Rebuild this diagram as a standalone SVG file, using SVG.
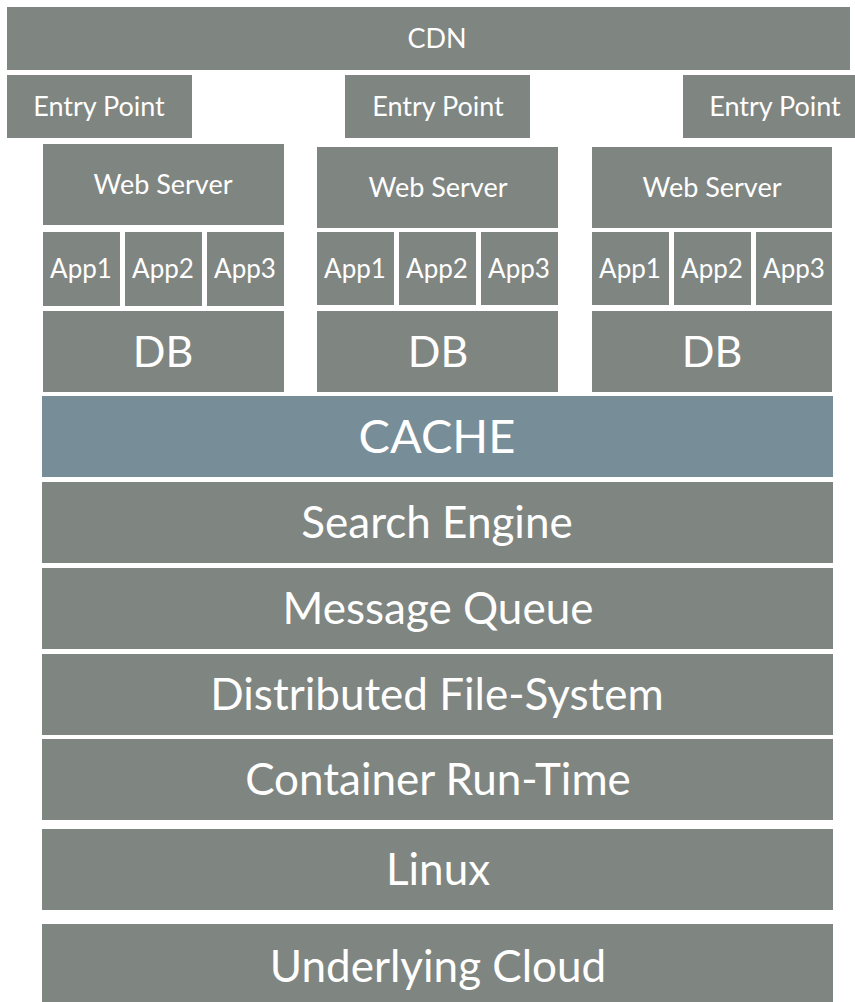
<svg xmlns="http://www.w3.org/2000/svg" width="855" height="1002" viewBox="0 0 855 1002">
  <style>
    .box { fill: #7f8581; }
    .cache { fill: #778d98; }
    .t { fill: #ffffff; font-family: Lato, "Open Sans", "Liberation Sans", sans-serif; text-anchor: middle; }
    .s { font-size: 27px; }
    .a { font-size: 26px; }
    .m { font-size: 43px; }
    .c { font-size: 47px; }
    .l { font-size: 44px; }
  </style>
  <rect width="855" height="1002" fill="#ffffff"/>

  <g id="cdn">
    <rect class="box" x="7" y="7" width="843" height="63"/>
    <text class="t s" x="437" y="48">CDN</text>
  </g>

  <g id="entry-1">
    <rect class="box" x="7" y="75" width="185" height="63"/>
    <text class="t s" x="99" y="116">Entry Point</text>
  </g>
  <g id="entry-2">
    <rect class="box" x="345" y="75" width="185" height="63"/>
    <text class="t s" x="438" y="116">Entry Point</text>
  </g>
  <g id="entry-3">
    <rect class="box" x="683" y="75" width="172" height="63"/>
    <text class="t s" x="775" y="116">Entry Point</text>
  </g>

  <!-- column 1 -->
  <g id="web-1">
    <rect class="box" x="43" y="144" width="241" height="81"/>
    <text class="t s" x="163" y="194">Web Server</text>
  </g>
  <g id="app1-1">
    <rect class="box" x="43" y="232" width="77" height="74"/>
    <text class="t a" x="81" y="278">App1</text>
  </g>
  <g id="app2-1">
    <rect class="box" x="125" y="232" width="77" height="74"/>
    <text class="t a" x="163" y="278">App2</text>
  </g>
  <g id="app3-1">
    <rect class="box" x="207" y="232" width="77" height="74"/>
    <text class="t a" x="245" y="278">App3</text>
  </g>
  <g id="db-1">
    <rect class="box" x="43" y="311" width="241" height="81"/>
    <text class="t m" x="163" y="367">DB</text>
  </g>

  <!-- column 2 -->
  <g id="web-2">
    <rect class="box" x="317" y="147" width="241" height="81"/>
    <text class="t s" x="438" y="197">Web Server</text>
  </g>
  <g id="app1-2">
    <rect class="box" x="317" y="232" width="77" height="73"/>
    <text class="t a" x="355" y="278">App1</text>
  </g>
  <g id="app2-2">
    <rect class="box" x="399" y="232" width="77" height="73"/>
    <text class="t a" x="437" y="278">App2</text>
  </g>
  <g id="app3-2">
    <rect class="box" x="481" y="232" width="77" height="73"/>
    <text class="t a" x="519" y="278">App3</text>
  </g>
  <g id="db-2">
    <rect class="box" x="317" y="311" width="241" height="81"/>
    <text class="t m" x="438" y="367">DB</text>
  </g>

  <!-- column 3 -->
  <g id="web-3">
    <rect class="box" x="592" y="147" width="240" height="81"/>
    <text class="t s" x="712" y="197">Web Server</text>
  </g>
  <g id="app1-3">
    <rect class="box" x="592" y="232" width="77" height="73"/>
    <text class="t a" x="630" y="278">App1</text>
  </g>
  <g id="app2-3">
    <rect class="box" x="674" y="232" width="77" height="73"/>
    <text class="t a" x="712" y="278">App2</text>
  </g>
  <g id="app3-3">
    <rect class="box" x="756" y="232" width="76" height="73"/>
    <text class="t a" x="794" y="278">App3</text>
  </g>
  <g id="db-3">
    <rect class="box" x="592" y="311" width="240" height="81"/>
    <text class="t m" x="712" y="367">DB</text>
  </g>

  <!-- shared layers -->
  <g id="cache">
    <rect class="cache" x="42" y="396" width="791" height="81"/>
    <text class="t c" x="437" y="453">CACHE</text>
  </g>
  <g id="search-engine">
    <rect class="box" x="42" y="482" width="791" height="81"/>
    <text class="t l" x="437" y="538">Search Engine</text>
  </g>
  <g id="message-queue">
    <rect class="box" x="42" y="568" width="791" height="81"/>
    <text class="t l" x="438" y="624">Message Queue</text>
  </g>
  <g id="dfs">
    <rect class="box" x="42" y="654" width="791" height="81"/>
    <text class="t l" x="437" y="710">Distributed File-System</text>
  </g>
  <g id="container-runtime">
    <rect class="box" x="42" y="739" width="791" height="81"/>
    <text class="t l" x="438" y="795">Container Run-Time</text>
  </g>
  <g id="linux">
    <rect class="box" x="42" y="829" width="791" height="81"/>
    <text class="t l" x="438" y="885">Linux</text>
  </g>
  <g id="underlying-cloud">
    <rect class="box" x="42" y="924" width="791" height="78"/>
    <text class="t l" x="438" y="982">Underlying Cloud</text>
  </g>
</svg>
